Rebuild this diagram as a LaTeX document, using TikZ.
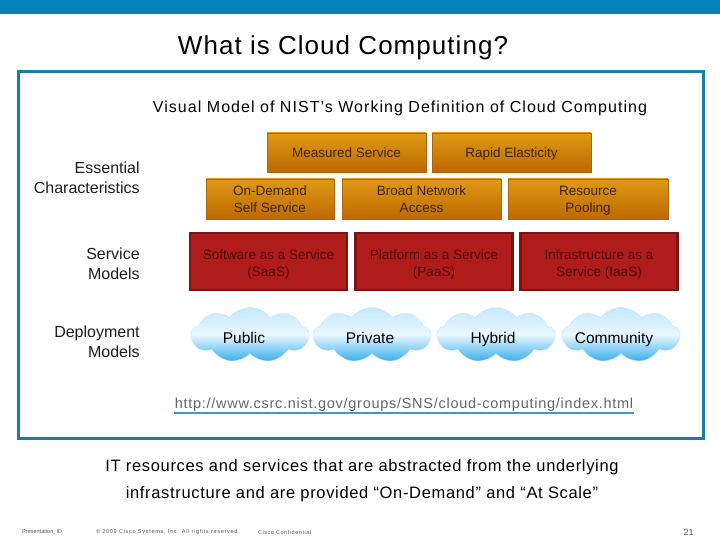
\documentclass[tikz,border=0pt]{standalone}
\usepackage{fontspec}
\setmainfont{Liberation Sans}
\usetikzlibrary{shapes.symbols}
\definecolor{cBar} {HTML}{0581BA}
\definecolor{cFrm} {HTML}{1A7DA9}
\definecolor{cOrgT}{HTML}{DE9A14}
\definecolor{cOrgB}{HTML}{BF6802}
\definecolor{cOrgD}{HTML}{B06408}
\definecolor{cOrgX}{HTML}{3A2606}
\definecolor{cRed} {HTML}{B01C1C}
\definecolor{cRedD}{HTML}{7C1212}
\definecolor{cRedX}{HTML}{4A0A0A}
\definecolor{cSkyT}{HTML}{C4E8FB}
\definecolor{cSkyM}{HTML}{EAF7FE}
\definecolor{cSkyB}{HTML}{34AEEB}
\definecolor{cUrl} {HTML}{3E9BC4}
\definecolor{cTxt} {HTML}{1E1E1E}
\newcommand\toprule{\rule{0pt}{13pt}}
\newcommand\svctop{\rule{0pt}{16.5pt}}
\newcommand\botrule{\rule[-3.3pt]{0pt}{3.3pt}}
\tikzset{
  ess/.style  ={draw=cOrgD,line width=0.8pt,top color=cOrgT,bottom color=cOrgB,
                text=cOrgX,align=center,inner sep=0pt,minimum height=39,
                font=\fontsize{13.5}{17}\selectfont},
  svc/.style  ={draw=cRedD,line width=2.4pt,fill=cRed,text=cRedX,align=center,
                inner sep=0pt,minimum width=157,minimum height=57,
                font=\fontsize{13.5}{17}\selectfont},
  dep/.style  ={cloud,cloud puffs=9,cloud puff arc=105,aspect=2.2,inner sep=0pt,
                minimum width=118,minimum height=55,draw=cSkyT,
                top color=cSkyT,bottom color=cSkyB,middle color=cSkyM},
  deptxt/.style={text=black,yshift=-4.5,text height=11.5,text depth=3.5,
                font=\fontsize{15.5}{18}\selectfont},
  side/.style ={align=right,anchor=east,text=cTxt,font=\fontsize{16}{20}\selectfont},
  foot/.style ={text=black!65,inner sep=0pt,font=\fontsize{5.6}{7}\selectfont},
}

\begin{document}
\begin{tikzpicture}[x=1pt,y=-1pt,every node/.style={outer sep=0pt}]
\useasboundingbox[fill=white] (0,0) rectangle (720,540);
\fill[cBar] (0,0) rectangle (720,14);
\node[font=\fontsize{26}{30}\selectfont\addfontfeature{LetterSpace=4}] (title) at (343,48)
  {What is Cloud Computing?};
\draw[cFrm,line width=3pt] (18,72) rectangle (703,438);

\node[font=\fontsize{16}{20}\selectfont\addfontfeature{LetterSpace=6.5}] (sub) at (400,108)
  {Visual Model of NIST’s Working Definition of Cloud Computing};

\node[side] (lEss) at (143,178) {Essential\\Characteristics};
\node[side] (lSvc) at (143,263.5) {Service\\Models};
\node[side] (lDep) at (143,341.5) {Deployment\\Models};

\node[ess,minimum width=159] (meas)  at (346.5,152.5) {\toprule Measured Service\botrule};
\node[ess,minimum width=159] (rapid) at (511.5,152.5) {\toprule Rapid Elasticity\botrule};
\node[ess,minimum width=128,minimum height=40] (demand) at (270,199)
  {\toprule On-Demand\\Self Service\botrule};
\node[ess,minimum width=159,minimum height=40] (broad)  at (421.5,199)
  {\toprule Broad Network\\Access\botrule};
\node[ess,minimum width=160,minimum height=40] (pool)   at (588,199)
  {\toprule Resource\\Pooling\botrule};

\node[svc] (saas) at (268.5,261.5) {\svctop Software as a Service\\(SaaS)\botrule};
\node[svc] (paas) at (434,261.5) {\svctop Platform as a Service\\(PaaS)\botrule};
\node[svc] (iaas) at (599,261.5) {\svctop Infrastructure as a\\Service (IaaS)\botrule};

\node[dep,label={[deptxt,xshift=-6]center:Public}]    (pub)  at (250,335) {};
\node[dep,label={[deptxt,xshift=-2]center:Private}]   (priv) at (372,335) {};
\node[dep,label={[deptxt,xshift=-3]center:Hybrid}]    (hyb)  at (496,335) {};
\node[dep,label={[deptxt,xshift=-7]center:Community}] (comm) at (621,335) {};

\node[text=black!60,font=\fontsize{14.5}{17}\selectfont\addfontfeature{LetterSpace=5},
      inner sep=0.5pt] (url) at (404,404.5)
  {http://www.csrc.nist.gov/groups/SNS/cloud-computing/index.html};
\draw[cUrl,line width=1.5pt] ([yshift=-1]url.south west) -- ([yshift=-1]url.south east);

\node[align=center,font=\fontsize{16.5}{27}\selectfont\addfontfeature{LetterSpace=4}] (def) at (362,481)
  {IT resources and services that are abstracted from the underlying\\
   infrastructure and are provided “On-Demand” and “At Scale”};

\node[foot,anchor=west] (pid)  at (22,532) {Presentation\_ID};
\node[foot,anchor=west,font=\fontsize{5.6}{7}\selectfont\addfontfeature{LetterSpace=12}] (copy) at (96,532)
  {© 2009 Cisco Systems, Inc. All rights reserved.};
\node[foot,anchor=west,font=\fontsize{5.6}{7}\selectfont\addfontfeature{LetterSpace=9}] (conf) at (258,532)
  {Cisco Confidential};
\node[text=black!65,anchor=east,font=\fontsize{9}{10}\selectfont] (page) at (697,532) {21};
\end{tikzpicture}
\end{document}
